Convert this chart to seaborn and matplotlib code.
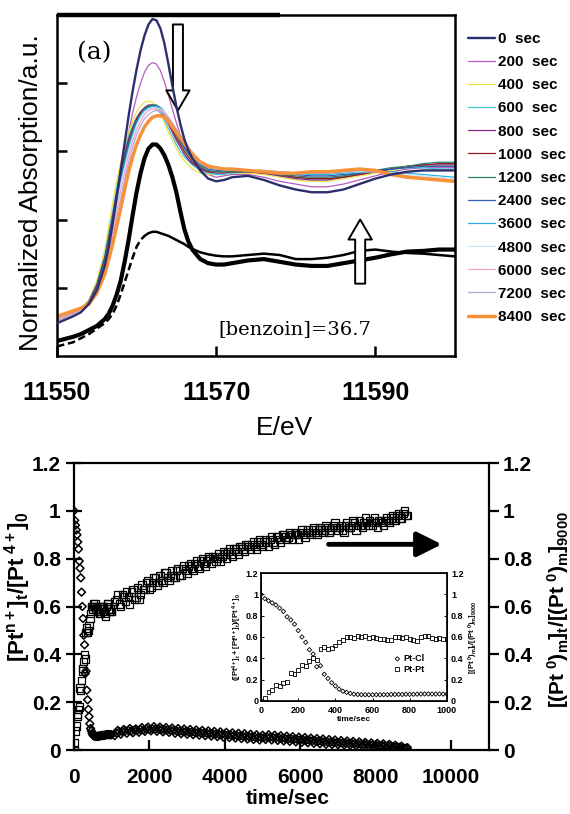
import numpy as np
import pandas as pd
import seaborn as sns
import matplotlib.pyplot as plt
from matplotlib.ticker import FuncFormatter

# ---- XANES spectra (top panel) ----
energy = [11550, 11552, 11553, 11554, 11555, 11556, 11556.5, 11557, 11557.5, 11558, 11558.5, 11559,
          11559.5, 11560, 11560.5, 11561, 11561.5, 11562, 11562.5, 11563, 11563.5, 11564, 11564.5,
          11565, 11565.5, 11566, 11566.5, 11567, 11568, 11569, 11570, 11571, 11572, 11574, 11576,
          11578, 11580, 11582, 11584, 11586, 11588, 11590, 11592, 11594, 11596, 11598, 11600]

s0 = [0.24, 0.29, 0.32, 0.38, 0.48, 0.66, 0.80, 0.97, 1.16, 1.36, 1.56, 1.76, 1.94, 2.10, 2.24, 2.35,
      2.43, 2.47, 2.46, 2.40, 2.29, 2.14, 1.98, 1.83, 1.70, 1.59, 1.51, 1.45, 1.36, 1.30, 1.28, 1.29,
      1.31, 1.32, 1.29, 1.25, 1.22, 1.20, 1.20, 1.22, 1.26, 1.30, 1.33, 1.35, 1.36, 1.36, 1.36]
s200 = [0.25, 0.30, 0.33, 0.39, 0.50, 0.68, 0.82, 0.99, 1.16, 1.33, 1.49, 1.64, 1.78, 1.90, 2.00, 2.08,
        2.13, 2.15, 2.14, 2.09, 2.01, 1.91, 1.81, 1.71, 1.62, 1.55, 1.49, 1.44, 1.37, 1.33, 1.31, 1.32,
        1.33, 1.33, 1.31, 1.28, 1.26, 1.24, 1.24, 1.26, 1.29, 1.32, 1.35, 1.37, 1.38, 1.38, 1.38]
s400 = [0.26, 0.32, 0.35, 0.41, 0.55, 0.78, 0.95, 1.12, 1.28, 1.42, 1.54, 1.64, 1.72, 1.79, 1.83, 1.86,
        1.87, 1.86, 1.83, 1.78, 1.71, 1.64, 1.58, 1.52, 1.47, 1.43, 1.40, 1.37, 1.34, 1.33, 1.33, 1.33,
        1.34, 1.34, 1.33, 1.31, 1.29, 1.28, 1.28, 1.30, 1.32, 1.34, 1.36, 1.38, 1.39, 1.39, 1.39]
s600 = [0.25, 0.31, 0.34, 0.40, 0.53, 0.74, 0.90, 1.06, 1.23, 1.38, 1.51, 1.61, 1.69, 1.75, 1.79, 1.82,
        1.83, 1.83, 1.81, 1.78, 1.73, 1.67, 1.61, 1.55, 1.50, 1.46, 1.43, 1.40, 1.36, 1.34, 1.33, 1.33,
        1.34, 1.35, 1.34, 1.32, 1.31, 1.30, 1.30, 1.32, 1.34, 1.35, 1.37, 1.38, 1.38, 1.37, 1.37]
s800 = [0.25, 0.31, 0.34, 0.40, 0.52, 0.72, 0.87, 1.03, 1.20, 1.35, 1.48, 1.59, 1.67, 1.74, 1.79, 1.82,
        1.84, 1.84, 1.83, 1.80, 1.75, 1.70, 1.64, 1.58, 1.53, 1.48, 1.44, 1.41, 1.37, 1.35, 1.34, 1.34,
        1.35, 1.35, 1.34, 1.32, 1.30, 1.29, 1.29, 1.31, 1.33, 1.35, 1.37, 1.39, 1.40, 1.40, 1.40]
s1000 = [0.25, 0.31, 0.34, 0.39, 0.51, 0.71, 0.86, 1.01, 1.17, 1.32, 1.45, 1.57, 1.66, 1.73, 1.78, 1.81,
         1.83, 1.84, 1.83, 1.81, 1.77, 1.72, 1.66, 1.60, 1.55, 1.50, 1.46, 1.42, 1.38, 1.35, 1.35, 1.35,
         1.35, 1.35, 1.34, 1.33, 1.31, 1.30, 1.30, 1.31, 1.33, 1.35, 1.37, 1.39, 1.40, 1.41, 1.41]
s1200 = [0.24, 0.30, 0.33, 0.39, 0.50, 0.70, 0.85, 1.00, 1.16, 1.31, 1.44, 1.56, 1.65, 1.72, 1.77, 1.81,
         1.83, 1.84, 1.84, 1.82, 1.78, 1.73, 1.68, 1.62, 1.57, 1.52, 1.48, 1.44, 1.39, 1.36, 1.35, 1.35,
         1.35, 1.35, 1.35, 1.33, 1.32, 1.31, 1.31, 1.32, 1.34, 1.36, 1.38, 1.39, 1.41, 1.42, 1.42]
s2400 = [0.24, 0.30, 0.33, 0.38, 0.49, 0.68, 0.83, 0.98, 1.14, 1.29, 1.42, 1.54, 1.63, 1.71, 1.76, 1.80,
         1.82, 1.83, 1.83, 1.82, 1.79, 1.74, 1.69, 1.63, 1.58, 1.53, 1.49, 1.45, 1.40, 1.37, 1.36, 1.36,
         1.36, 1.36, 1.35, 1.34, 1.33, 1.32, 1.32, 1.33, 1.34, 1.36, 1.37, 1.38, 1.39, 1.39, 1.39]
s3600 = [0.24, 0.29, 0.33, 0.38, 0.49, 0.67, 0.81, 0.96, 1.12, 1.27, 1.40, 1.52, 1.62, 1.70, 1.76, 1.80,
         1.82, 1.83, 1.83, 1.82, 1.79, 1.75, 1.70, 1.65, 1.60, 1.55, 1.51, 1.47, 1.41, 1.38, 1.37, 1.36,
         1.36, 1.36, 1.36, 1.35, 1.34, 1.33, 1.33, 1.34, 1.35, 1.35, 1.35, 1.34, 1.33, 1.32, 1.31]
s4800 = [0.25, 0.30, 0.33, 0.38, 0.48, 0.66, 0.80, 0.94, 1.10, 1.25, 1.38, 1.50, 1.60, 1.69, 1.75, 1.79,
         1.81, 1.82, 1.82, 1.81, 1.79, 1.75, 1.71, 1.66, 1.61, 1.56, 1.52, 1.48, 1.42, 1.39, 1.37, 1.37,
         1.37, 1.36, 1.36, 1.35, 1.34, 1.34, 1.34, 1.35, 1.35, 1.35, 1.34, 1.33, 1.32, 1.31, 1.30]
s6000 = [0.26, 0.31, 0.34, 0.38, 0.47, 0.64, 0.77, 0.91, 1.06, 1.21, 1.34, 1.47, 1.57, 1.66, 1.72, 1.77,
         1.80, 1.81, 1.81, 1.80, 1.78, 1.75, 1.71, 1.66, 1.62, 1.57, 1.53, 1.49, 1.43, 1.40, 1.38, 1.37,
         1.37, 1.36, 1.36, 1.35, 1.34, 1.34, 1.34, 1.35, 1.36, 1.35, 1.34, 1.32, 1.31, 1.30, 1.29]
s7200 = [0.27, 0.32, 0.35, 0.38, 0.46, 0.62, 0.74, 0.87, 1.01, 1.15, 1.29, 1.42, 1.53, 1.62, 1.69, 1.74,
         1.77, 1.79, 1.80, 1.79, 1.77, 1.74, 1.70, 1.66, 1.62, 1.57, 1.53, 1.49, 1.43, 1.40, 1.38, 1.37,
         1.37, 1.36, 1.35, 1.34, 1.34, 1.34, 1.34, 1.35, 1.36, 1.35, 1.33, 1.31, 1.30, 1.29, 1.28]
s8400 = [0.29, 0.33, 0.35, 0.38, 0.46, 0.60, 0.71, 0.82, 0.95, 1.08, 1.22, 1.35, 1.46, 1.55, 1.62, 1.68,
         1.72, 1.75, 1.76, 1.76, 1.75, 1.72, 1.68, 1.64, 1.60, 1.56, 1.52, 1.48, 1.42, 1.39, 1.38, 1.37,
         1.37, 1.36, 1.35, 1.34, 1.34, 1.35, 1.35, 1.36, 1.37, 1.36, 1.33, 1.31, 1.30, 1.29, 1.28]

# references: Pt(IV) precursor (thick) and Pt foil (thin)
ref_pt4 = [0.11, 0.14, 0.16, 0.19, 0.22, 0.27, 0.31, 0.37, 0.45, 0.55, 0.69, 0.85, 1.03, 1.20, 1.34, 1.45,
           1.52, 1.55, 1.55, 1.52, 1.47, 1.40, 1.31, 1.20, 1.06, 0.93, 0.84, 0.78, 0.71, 0.68, 0.67, 0.67,
           0.68, 0.70, 0.71, 0.69, 0.67, 0.66, 0.66, 0.68, 0.70, 0.72, 0.745, 0.765, 0.77, 0.78, 0.78]
ref_foil = [0.07, 0.10, 0.13, 0.16, 0.20, 0.24, 0.27, 0.31, 0.37, 0.45, 0.54, 0.63, 0.72, 0.80, 0.85, 0.88,
            0.90, 0.91, 0.91, 0.90, 0.89, 0.88, 0.865, 0.85, 0.835, 0.82, 0.80, 0.785, 0.76, 0.745, 0.735,
            0.73, 0.73, 0.74, 0.75, 0.74, 0.71, 0.71, 0.72, 0.74, 0.77, 0.78, 0.765, 0.755, 0.75, 0.74, 0.73]

spectra = [s0, s200, s400, s600, s800, s1000, s1200, s2400, s3600, s4800, s6000, s7200, s8400]
spec_labels = ['0  sec', '200  sec', '400  sec', '600  sec', '800  sec', '1000  sec', '1200  sec',
               '2400  sec', '3600  sec', '4800  sec', '6000  sec', '7200  sec', '8400  sec']
spec_colors = ['#2c2f6e', '#b45cc2', '#ebe24a', '#45c7d2', '#7c2c80', '#8e1c1c', '#2f7c70',
               '#2f5fae', '#28aee3', '#c2eaf3', '#f3a6cb', '#b4a7da', '#f7923a']
spec_widths = [1.7, 0.9, 0.9, 0.9, 0.9, 0.9, 0.9, 0.9, 0.9, 0.9, 0.9, 0.9, 2.5]

# ---- kinetics (bottom panel) ----
t_early = [0, 20, 40, 60, 80, 100, 120, 140, 160, 180, 200, 220, 240, 260, 280, 300, 320, 340, 360, 380,
           400, 420, 440, 460, 480, 500, 520, 540, 560, 580, 600, 620, 640, 660, 680, 700, 720, 740, 760, 780,
           800, 820, 840, 860, 880, 900, 920, 940, 960, 980, 1000]
ptcl_early = [1.00, 0.96, 0.94, 0.92, 0.90, 0.87, 0.84, 0.79, 0.76, 0.72, 0.66, 0.60, 0.55, 0.48, 0.44, 0.32,
              0.33, 0.25, 0.21, 0.17, 0.14, 0.11, 0.09, 0.08, 0.07, 0.063, 0.06, 0.058, 0.058, 0.057, 0.057,
              0.058, 0.057, 0.058, 0.058, 0.060, 0.060, 0.061, 0.060, 0.062, 0.061, 0.062, 0.063, 0.064, 0.065,
              0.065, 0.064, 0.064, 0.065, 0.064, 0.064]
ptpt_early = [0.00, 0.03, 0.08, 0.10, 0.15, 0.14, 0.17, 0.18, 0.26, 0.25, 0.29, 0.34, 0.33, 0.37, 0.40, 0.38,
              0.49, 0.51, 0.49, 0.50, 0.52, 0.55, 0.57, 0.60, 0.60, 0.59, 0.61, 0.60, 0.61, 0.59, 0.60, 0.59,
              0.58, 0.58, 0.57, 0.57, 0.60, 0.60, 0.59, 0.60, 0.58, 0.57, 0.56, 0.60, 0.61, 0.61, 0.59, 0.58,
              0.59, 0.58, 0.58]

t_late = [1080, 1160, 1240, 1320, 1400, 1480, 1560, 1640, 1720, 1800,
          1880, 1960, 2040, 2120, 2200, 2280, 2360, 2440, 2520, 2600,
          2680, 2760, 2840, 2920, 3000, 3080, 3160, 3240, 3320, 3400,
          3480, 3560, 3640, 3720, 3800, 3880, 3960, 4040, 4120, 4200,
          4280, 4360, 4440, 4520, 4600, 4680, 4760, 4840, 4920, 5000,
          5080, 5160, 5240, 5320, 5400, 5480, 5560, 5640, 5720, 5800,
          5880, 5960, 6040, 6120, 6200, 6280, 6360, 6440, 6520, 6600,
          6680, 6760, 6840, 6920, 7000, 7080, 7160, 7240, 7320, 7400,
          7480, 7560, 7640, 7720, 7800, 7880, 7960, 8040, 8120, 8200,
          8280, 8360, 8440, 8520, 8600, 8680, 8760, 8840]
ptpt_late = [0.62, 0.65, 0.60, 0.64, 0.66, 0.61, 0.67, 0.64, 0.63, 0.69,
             0.67, 0.71, 0.68, 0.72, 0.69, 0.73, 0.70, 0.74, 0.71, 0.75,
             0.72, 0.76, 0.73, 0.77, 0.74, 0.78, 0.75, 0.79, 0.76, 0.80,
             0.77, 0.81, 0.78, 0.81, 0.80, 0.79, 0.83, 0.80, 0.84, 0.81,
             0.84, 0.82, 0.85, 0.83, 0.86, 0.84, 0.87, 0.84, 0.88, 0.85,
             0.88, 0.85, 0.89, 0.86, 0.89, 0.87, 0.90, 0.88, 0.91, 0.88,
             0.91, 0.88, 0.92, 0.89, 0.92, 0.90, 0.93, 0.90, 0.93, 0.91,
             0.94, 0.91, 0.93, 0.95, 0.92, 0.94, 0.91, 0.95, 0.93, 0.96,
             0.92, 0.96, 0.93, 0.97, 0.94, 0.95, 0.97, 0.93, 0.96, 0.94,
             0.97, 0.95, 0.98, 0.96, 0.99, 0.97, 1.00, 0.98]
ptcl_late = [0.060, 0.082, 0.066, 0.086, 0.070, 0.090, 0.072, 0.088, 0.074, 0.094,
             0.078, 0.096, 0.080, 0.098, 0.078, 0.096, 0.076, 0.094, 0.074, 0.092,
             0.070, 0.090, 0.068, 0.088, 0.066, 0.086, 0.064, 0.084, 0.062, 0.082,
             0.060, 0.080, 0.058, 0.078, 0.056, 0.076, 0.054, 0.074, 0.052, 0.072,
             0.050, 0.070, 0.048, 0.068, 0.046, 0.066, 0.044, 0.064, 0.042, 0.062,
             0.044, 0.064, 0.042, 0.062, 0.040, 0.060, 0.038, 0.058, 0.036, 0.056,
             0.034, 0.054, 0.032, 0.052, 0.030, 0.050, 0.028, 0.048, 0.026, 0.046,
             0.024, 0.044, 0.023, 0.042, 0.022, 0.040, 0.021, 0.038, 0.020, 0.036,
             0.018, 0.034, 0.017, 0.032, 0.016, 0.030, 0.015, 0.028, 0.014, 0.026,
             0.012, 0.024, 0.010, 0.020, 0.008, 0.016, 0.006, 0.010]

# readings taken between the ones above
t_mid = [1120, 1200, 1280, 1360, 1440, 1520, 1600, 1680, 1760, 1840,
         1920, 2000, 2080, 2160, 2240, 2320, 2400, 2480, 2560, 2640,
         2720, 2800, 2880, 2960, 3040, 3120, 3200, 3280, 3360, 3440,
         3520, 3600, 3680, 3760, 3840, 3920, 4000, 4080, 4160, 4240,
         4320, 4400, 4480, 4560, 4640, 4720, 4800, 4880, 4960, 5040,
         5120, 5200, 5280, 5360, 5440, 5520, 5600, 5680, 5760, 5840,
         5920, 6000, 6080, 6160, 6240, 6320, 6400, 6480, 6560, 6640,
         6720, 6800, 6880, 6960, 7040, 7120, 7200, 7280, 7360, 7440,
         7520, 7600, 7680, 7760, 7840, 7920, 8000, 8080, 8160, 8240,
         8320, 8400, 8480, 8560, 8640, 8720, 8800]
ptpt_mid = [0.63, 0.61, 0.65, 0.62, 0.64, 0.66, 0.63, 0.68, 0.65, 0.67,
            0.70, 0.67, 0.70, 0.72, 0.70, 0.71, 0.74, 0.72, 0.73, 0.72,
            0.75, 0.73, 0.76, 0.75, 0.77, 0.76, 0.78, 0.77, 0.79, 0.78,
            0.79, 0.80, 0.81, 0.79, 0.82, 0.81, 0.82, 0.83, 0.82, 0.84,
            0.83, 0.85, 0.84, 0.86, 0.85, 0.86, 0.85, 0.87, 0.86, 0.87,
            0.87, 0.88, 0.87, 0.89, 0.88, 0.90, 0.89, 0.89, 0.90, 0.90,
            0.90, 0.91, 0.90, 0.91, 0.91, 0.92, 0.91, 0.92, 0.92, 0.92,
            0.93, 0.92, 0.94, 0.93, 0.93, 0.92, 0.94, 0.93, 0.94, 0.95,
            0.94, 0.94, 0.95, 0.95, 0.96, 0.94, 0.95, 0.96, 0.95, 0.96,
            0.96, 0.97, 0.96, 0.98, 0.97, 0.99, 0.98]
ptcl_mid = [0.072, 0.076, 0.078, 0.080, 0.082, 0.080, 0.084, 0.082, 0.086, 0.084,
            0.088, 0.086, 0.089, 0.087, 0.088, 0.086, 0.085, 0.084, 0.083, 0.082,
            0.080, 0.079, 0.078, 0.077, 0.076, 0.075, 0.074, 0.073, 0.072, 0.071,
            0.070, 0.069, 0.068, 0.067, 0.066, 0.065, 0.064, 0.063, 0.062, 0.061,
            0.060, 0.059, 0.058, 0.057, 0.056, 0.055, 0.054, 0.053, 0.052, 0.052,
            0.054, 0.053, 0.052, 0.051, 0.050, 0.049, 0.048, 0.047, 0.046, 0.045,
            0.044, 0.043, 0.042, 0.041, 0.040, 0.039, 0.038, 0.037, 0.036, 0.035,
            0.034, 0.033, 0.032, 0.031, 0.031, 0.030, 0.029, 0.028, 0.028, 0.027,
            0.026, 0.025, 0.024, 0.024, 0.023, 0.022, 0.021, 0.020, 0.020, 0.019,
            0.018, 0.017, 0.015, 0.014, 0.012, 0.010, 0.008]

y_ticks = [0, 0.2, 0.4, 0.6, 0.8, 1.0, 1.2]
t_ticks = [0, 2000, 4000, 6000, 8000, 10000]
inset_t_ticks = [0, 200, 400, 600, 800, 1000]

sns.set_theme(style='ticks', rc={'axes.edgecolor': 'black', 'text.color': 'black',
                                 'axes.labelcolor': 'black', 'xtick.color': 'black',
                                 'ytick.color': 'black'})
plt.rcParams['font.family'] = ['Liberation Sans', 'DejaVu Sans']
plt.rcParams['mathtext.fontset'] = 'custom'
plt.rcParams['mathtext.rm'] = 'Liberation Sans:bold'
plt.rcParams['mathtext.it'] = 'Liberation Sans:bold'
plt.rcParams['mathtext.bf'] = 'Liberation Sans:bold'

fig = plt.figure(figsize=(5.7, 8.14), dpi=100)

# ================= top panel =================
ax1 = fig.add_axes([0.100, 0.5627, 0.698, 0.419])
spec = pd.DataFrame({'E': energy, 'pt4': ref_pt4, 'foil': ref_foil})
sns.lineplot(data=spec, x='E', y='pt4', ax=ax1, color='black', lw=3.0)
edge = spec[spec.E <= 11561]
tail = spec[spec.E >= 11561]
sns.lineplot(data=edge, x='E', y='foil', ax=ax1, color='black', lw=1.8, ls=(0, (3, 1.5)))
sns.lineplot(data=tail, x='E', y='foil', ax=ax1, color='black', lw=1.8)

handles = []
for vals, lab, col, lw in zip(spectra, spec_labels, spec_colors, spec_widths):
    sns.lineplot(x=energy, y=vals, ax=ax1, color=col, lw=lw, label=lab, legend=False)
    handles.append(ax1.lines[-1])
handles[0].set_zorder(5)

ax1.set_xlim(11550, 11600)
ax1.set_ylim(0, 2.5)
ax1.set_xticks([11550, 11570, 11590])
ax1.set_yticks([0.5, 1.0, 1.5, 2.0])
ax1.set_yticklabels([])
ax1.tick_params(axis='both', direction='in', length=7, width=1.8, pad=18)
for lab in ax1.get_xticklabels():
    lab.set_fontsize(18)
    lab.set_fontweight('bold')
for sp in ax1.spines.values():
    sp.set_linewidth(1.8)
ax1.plot([0, 0.56], [1, 1], transform=ax1.transAxes, color='black', lw=3.2,
         clip_on=False, solid_capstyle='butt')
ax1.set_xlabel('E/eV', fontsize=19, labelpad=8)
ax1.xaxis.set_label_coords(0.573, -0.175)
ax1.set_ylabel('Normalized Absorption/a.u.', fontsize=19)
ax1.yaxis.set_label_coords(-0.035, 0.48)

ax1.text(11552.5, 2.22, '(a)', family='DejaVu Serif', fontsize=18, ha='left', va='center')
ax1.text(11570.3, 0.20, '[benzoin]=36.7', family='DejaVu Serif', fontsize=14, ha='left', va='center')

hollow = dict(arrowstyle='simple,head_length=1.2,head_width=1.4,tail_width=0.6',
              fc='white', ec='black', lw=1.4, shrinkA=0, shrinkB=0, mutation_scale=12)
ax1.annotate('', xy=(11565.2, 1.80), xytext=(11565.2, 2.43), arrowprops=hollow)
ax1.annotate('', xy=(11588.1, 1.00), xytext=(11588.1, 0.53), arrowprops=hollow)

ax1.legend(handles, spec_labels, loc='upper left', bbox_to_anchor=(468 / 570, 1 - 32 / 814),
           bbox_transform=fig.transFigure, frameon=False, prop=dict(weight='bold', size=11),
           handlelength=1.75, handletextpad=0.2, labelspacing=0.6, borderpad=0, borderaxespad=0)

# ================= bottom panel =================
kin = pd.DataFrame({'t': t_early + t_late + t_mid,
                    'ptcl': ptcl_early + ptcl_late + ptcl_mid,
                    'ptpt': ptpt_early + ptpt_late + ptpt_mid})
early = pd.DataFrame({'t': t_early, 'ptcl': ptcl_early, 'ptpt': ptpt_early})

ax2 = fig.add_axes([0.1298, 0.0786, 0.728, 0.3526])
sns.scatterplot(data=kin, x='t', y='ptpt', marker='s', s=28, ax=ax2, color='black', linewidth=0.9)
pts = ax2.collections[-1]
pts.set_facecolor('none')
pts.set_edgecolor('black')
sns.scatterplot(data=kin, x='t', y='ptcl', marker='D', s=16, ax=ax2, color='black', linewidth=1.1)
pts = ax2.collections[-1]
pts.set_facecolor('none')
pts.set_edgecolor('black')

fmt = FuncFormatter(lambda v, p: f'{v:g}')
ax2.set_xlim(0, 11000)
ax2.set_ylim(0, 1.2)
ax2.set_xticks(t_ticks)
ax2.set_yticks(y_ticks)
ax2.yaxis.set_major_formatter(fmt)
ax2.tick_params(axis='x', direction='in', length=7, width=1.6, pad=13, labelsize=15)
ax2.tick_params(axis='y', direction='inout', length=12, width=1.6, pad=3.5, labelsize=15)
for lab in ax2.get_xticklabels() + ax2.get_yticklabels():
    lab.set_fontweight('bold')
for sp in ax2.spines.values():
    sp.set_linewidth(1.6)
ax2.set_xlabel('time/sec', fontsize=15, fontweight='bold', labelpad=3)
ax2.xaxis.set_label_coords(0.515, -0.135)
ax2.set_ylabel(r'$[\mathrm{Pt}^{n+}]_t/[\mathrm{Pt}^{\ 4+}]_0$', fontsize=16)
ax2.yaxis.set_label_coords(-0.099, 0.57)

ax2r = ax2.twinx()
ax2r.set_ylim(0, 1.2)
ax2r.set_yticks(y_ticks)
ax2r.yaxis.set_major_formatter(fmt)
ax2r.tick_params(axis='y', direction='out', length=7, width=1.6, pad=3, labelsize=15)
for lab in ax2r.get_yticklabels():
    lab.set_fontweight('bold')
ax2r.set_ylabel(r'$[(\mathrm{Pt}^{\ 0})_m]_t/[(\mathrm{Pt}^{\ 0})_m]_{9000}$', fontsize=15)
ax2r.yaxis.set_label_coords(1.135, 0.49)

ax2.annotate('', xy=(9750, 0.86), xytext=(6750, 0.86),
             arrowprops=dict(arrowstyle='-|>,head_length=0.6,head_width=0.3', lw=3.5, color='black',
                             mutation_scale=25, shrinkA=0, shrinkB=0))

# ================= inset =================
ax3 = fig.add_axes([0.458, 0.139, 0.326, 0.157])
ax3.set_facecolor('white')
sns.scatterplot(data=early, x='t', y='ptcl', marker='D', s=5, ax=ax3, color='black', linewidth=0.6,
                label='Pt-Cl')
pts = ax3.collections[-1]
pts.set_facecolor('none')
pts.set_edgecolor('black')
sns.scatterplot(data=early, x='t', y='ptpt', marker='s', s=8, ax=ax3, color='black', linewidth=0.6,
                label='Pt-Pt')
pts = ax3.collections[-1]
pts.set_facecolor('none')
pts.set_edgecolor('black')
ax3.set_xlim(0, 1000)
ax3.set_ylim(0, 1.2)
ax3.set_xticks(inset_t_ticks)
ax3.set_yticks(y_ticks)
ax3.yaxis.set_major_formatter(fmt)
ax3.tick_params(axis='both', direction='in', length=2.5, width=0.7, pad=2, labelsize=6.5)
ax3.tick_params(axis='x', pad=3.5)
for lab in ax3.get_xticklabels() + ax3.get_yticklabels():
    lab.set_fontweight('bold')
for sp in ax3.spines.values():
    sp.set_linewidth(0.7)
ax3.set_xlabel('time/sec', fontsize=6, fontweight='bold', labelpad=1)
ax3.set_ylabel(r'$([\mathrm{Pt}^{4+}]_t+[\mathrm{Pt}^{n+}]_t)/[\mathrm{Pt}^{\ 4+}]_0$', fontsize=5.5, labelpad=1)
ax3.legend(loc='upper left', bbox_to_anchor=(0.68, 0.40), frameon=False, prop=dict(weight='bold', size=6.5),
           handletextpad=0.1, labelspacing=0.15, borderpad=0, handlelength=1.2, markerscale=1.0)

ax3r = ax3.twinx()
ax3r.set_ylim(0, 1.2)
ax3r.set_yticks(y_ticks)
ax3r.yaxis.set_major_formatter(fmt)
ax3r.tick_params(axis='y', direction='in', length=2.5, width=0.7, pad=3, labelsize=6.5)
for lab in ax3r.get_yticklabels():
    lab.set_fontweight('bold')
ax3r.set_ylabel(r'$[(\mathrm{Pt}^{\ 0})_m]_t/[(\mathrm{Pt}^{\ 0})_m]_{9000}$', fontsize=5.5, labelpad=2)

fig.savefig('out.png', dpi=100)
